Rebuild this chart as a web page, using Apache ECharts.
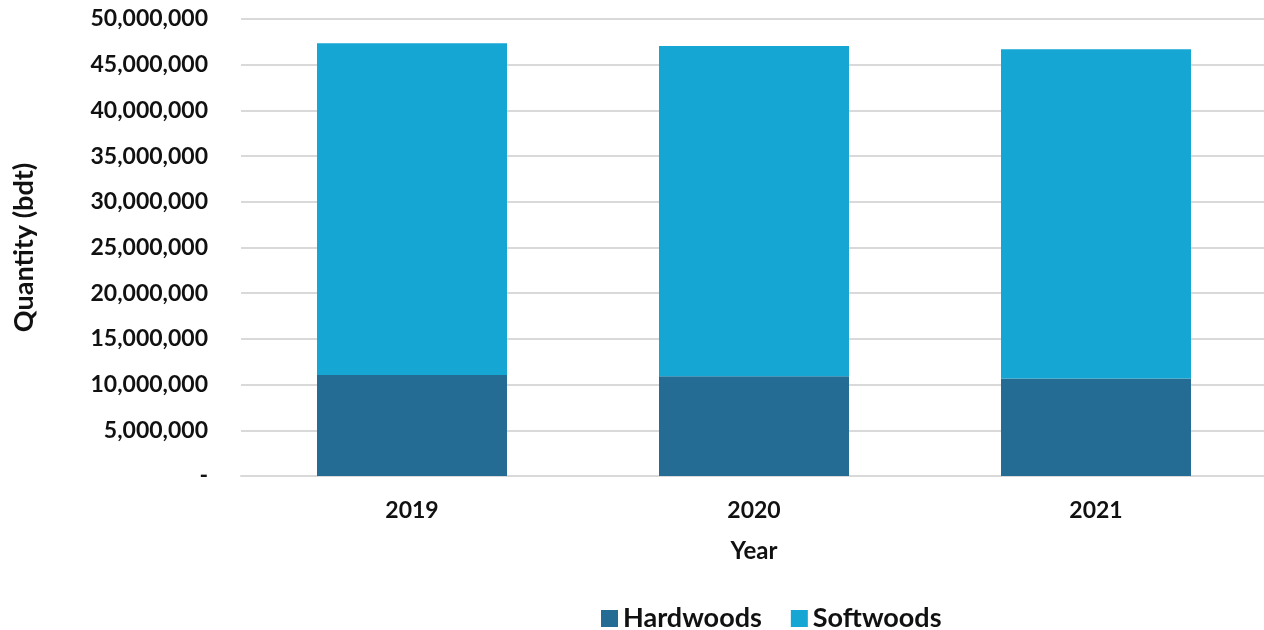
<!DOCTYPE html>
<html>
<head>
<meta charset="utf-8">
<script src="https://cdn.jsdelivr.net/npm/echarts@6/dist/echarts.min.js"></script>
<style>
  html, body { margin: 0; padding: 0; background: #ffffff; }
  #chart { width: 1264px; height: 630px; }
</style>
</head>
<body>
<div id="chart"></div>
<script>
// Biomass quantity by wood type (bone-dry tons)
const years = ['2019', '2020', '2021'];
const hardwoods = [11060000, 10920000, 10660000];
const softwoods = [36280000, 36120000, 36020000];
const seriesNames = ['Hardwoods', 'Softwoods'];
const seriesColors = ['#246C94', '#16A6D4'];

const FONT = 'Lato, "Open Sans", sans-serif';

const chart = echarts.init(document.getElementById('chart'));

function fmtTick(v) {
  if (v === 0) return '-';
  return v.toLocaleString('en-US');
}

chart.setOption({
  animation: false,
  textStyle: { fontFamily: FONT },
  grid: {
    left: 241, top: 19, width: 1026, height: 457,
    containLabel: false,
    outerBoundsMode: 'none'
  },
  legend: {
    data: seriesNames,
    top: 600,
    left: 596,
    itemWidth: 17,
    itemHeight: 17,
    itemGap: 29,
    icon: 'rect',
    textStyle: { fontFamily: FONT, fontWeight: 'bold', fontSize: 27, color: '#111' }
  },
  xAxis: {
    type: 'category',
    data: years,
    name: 'Year',
    nameLocation: 'middle',
    nameGap: 63,
    nameTextStyle: { fontFamily: FONT, fontWeight: 'bold', fontSize: 24, color: '#111' },
    axisLine: { show: true, lineStyle: { color: '#d9d9d9', width: 2 } },
    axisTick: { show: false },
    axisLabel: { fontFamily: FONT, fontWeight: 'bold', fontSize: 23, color: '#111', margin: 23 }
  },
  yAxis: {
    type: 'value',
    min: 0,
    max: 50000000,
    interval: 5000000,
    name: 'Quantity (bdt)',
    nameLocation: 'middle',
    nameGap: 203,
    nameTextStyle: { fontFamily: FONT, fontWeight: 'bold', fontSize: 27, color: '#111' },
    axisLine: { show: false },
    axisTick: { show: false },
    splitLine: { lineStyle: { color: '#d9d9d9', width: 2 } },
    axisLabel: {
      fontFamily: FONT, fontWeight: 'bold', fontSize: 23, color: '#111', margin: 33,
      formatter: fmtTick
    }
  },
  series: [
    {
      name: seriesNames[0],
      type: 'bar',
      stack: 'total',
      data: hardwoods,
      barWidth: 190,
      itemStyle: { color: seriesColors[0] }
    },
    {
      name: seriesNames[1],
      type: 'bar',
      stack: 'total',
      data: softwoods,
      barWidth: 190,
      itemStyle: { color: seriesColors[1] }
    }
  ]
});
</script>
</body>
</html>
